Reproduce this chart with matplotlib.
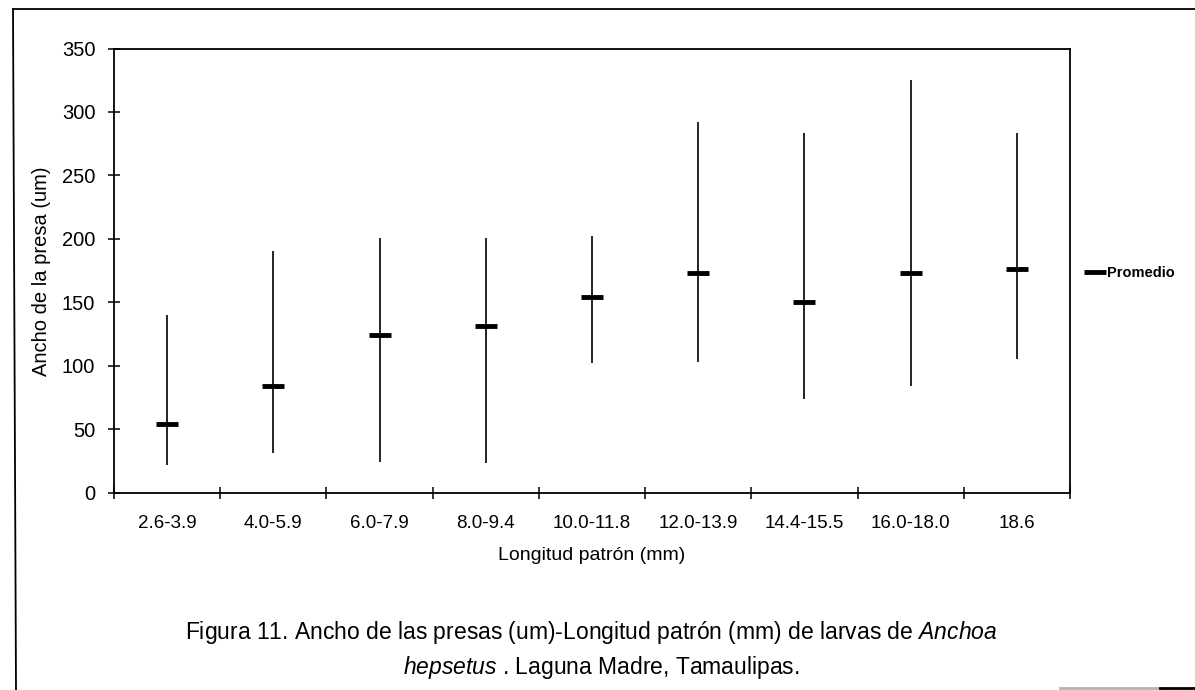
import numpy as np
import matplotlib
matplotlib.use("Agg")
import matplotlib.pyplot as plt
from matplotlib.lines import Line2D

plt.rcParams['font.family'] = ['Liberation Sans', 'DejaVu Sans']
plt.rcParams['mathtext.fontset'] = 'custom'
plt.rcParams['mathtext.rm'] = 'Liberation Sans'
plt.rcParams['mathtext.it'] = 'Liberation Sans:italic'

# clases de longitud patron (mm)
clases = ["2.6-3.9", "4.0-5.9", "6.0-7.9", "8.0-9.4", "10.0-11.8",
          "12.0-13.9", "14.4-15.5", "16.0-18.0", "18.6"]
# ancho de presa (um): maximo, minimo y promedio
maximo = [140, 190, 201, 201, 202, 292, 283, 325, 283]
minimo = [22, 31, 24, 23, 102, 103, 74, 84, 105]
promedio = [54, 84, 124, 131, 154, 173, 150, 173, 176]

W, H = 1195, 690
fig = plt.figure(figsize=(W / 100, H / 100), dpi=100)
ax = fig.add_axes([114 / W, 1 - 492.5 / H, 956 / W, 444 / H])

x = np.arange(1, len(clases) + 1)
ax.vlines(x, minimo, maximo, color='black', lw=1.2)
ax.plot(x, promedio, ls='none', marker='_', ms=16, mew=3.5, color='black',
        label='Promedio')

ax.set_xlim(0.5, len(clases) + 0.5)
ax.set_ylim(0, 350)
ax.set_yticks(np.arange(0, 351, 50))
ax.set_xticks(x)
ax.set_xticklabels(clases)
ax.set_xticks(np.arange(0.5, len(clases) + 1, 1), minor=True)
ax.tick_params(axis='x', which='major', length=0, pad=16, labelsize=13.5)
ax.tick_params(axis='x', which='minor', direction='inout', length=9, width=1.1)
ax.tick_params(axis='y', direction='inout', length=9, width=1.1, pad=9,
               labelsize=14.5)
for s in ax.spines.values():
    s.set_linewidth(1.3)

ax.set_xlabel("Longitud patrón (mm)", fontsize=14, labelpad=11)
fig.text(42 / W, 1 - 271 / H, "Ancho de la presa (um)", rotation=90,
         ha='center', va='center', fontsize=14.5)

leg = ax.legend(loc='center left', bbox_to_anchor=(1.012, 0.495), frameon=False,
                prop={'size': 10.5, 'weight': 'bold'}, handlelength=1.1,
                handletextpad=0.25, borderaxespad=0)

fig.text(591 / W, 1 - 639 / H,
         r"Figura 11. Ancho de las presas (um)-Longitud patrón (mm) de larvas de $\it{Anchoa}$",
         ha='center', va='baseline', fontsize=16.5)
fig.text(601 / W, 1 - 674 / H,
         r"$\it{hepsetus}$ . Laguna Madre, Tamaulipas.",
         ha='center', va='baseline', fontsize=16.5)

# marco de la pagina
fig.add_artist(Line2D([13 / W, 1], [1 - 9 / H, 1 - 9 / H], color='black', lw=1.3))
fig.add_artist(Line2D([13 / W, 16 / W], [1 - 9 / H, 0], color='black', lw=1.3))
fig.add_artist(Line2D([1060 / W, 1160 / W], [2 / H, 2 / H], color='0.7', lw=2))
fig.add_artist(Line2D([1160 / W, 1], [2 / H, 2 / H], color='black', lw=2))

fig.savefig("out.png", dpi=100)
